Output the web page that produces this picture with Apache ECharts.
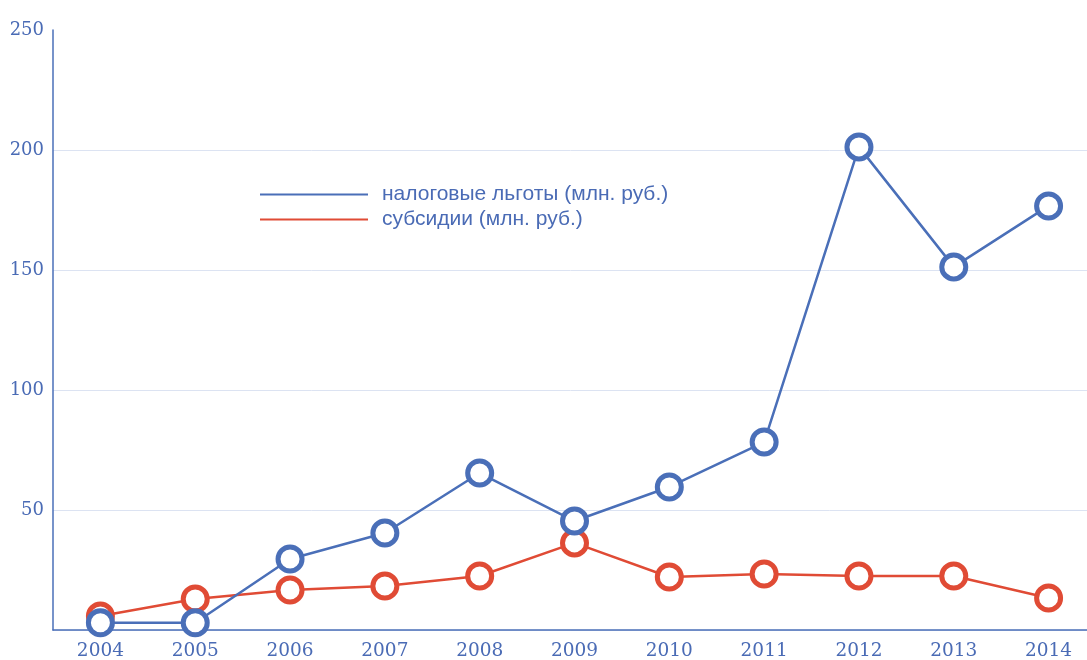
<!DOCTYPE html>
<html>
<head>
<meta charset="utf-8">
<script src="https://cdn.jsdelivr.net/npm/echarts@6/dist/echarts.min.js"></script>
<style>
  html, body { margin: 0; padding: 0; background: #fff; }
  #main { width: 1087px; height: 660px; }
</style>
</head>
<body>
<div id="main"></div>
<script>
// данные с графика
var years = ['2004', '2005', '2006', '2007', '2008', '2009', '2010', '2011', '2012', '2013', '2014'];
var taxBenefits = [3, 3, 29.6, 40.4, 65.4, 45.4, 59.6, 78.3, 201.3, 151.3, 176.7];
var subsidies = [5.8, 12.9, 16.7, 18.3, 22.5, 36.3, 22.1, 23.3, 22.5, 22.5, 13.3];

var blue = '#4a6fb8';
var red = '#e04b35';
var textColor = '#4a6bb5';

var chart = echarts.init(document.getElementById('main'));

var option = {
  animation: false,
  grid: {
    left: 53,
    top: 30,
    width: 1043,
    height: 600,
    outerBoundsMode: 'none'
  },
  legend: {
    orient: 'vertical',
    left: 260,
    top: 184,
    padding: 0,
    icon: 'rect',
    itemWidth: 108,
    itemHeight: 2,
    itemGap: 4,
    textStyle: {
      color: textColor,
      fontFamily: 'Liberation Sans',
      fontSize: 21,
      padding: [0, 0, 0, 9]
    },
    data: [
      { name: 'налоговые льготы (млн. руб.)', itemStyle: { color: blue, borderWidth: 0 } },
      { name: 'субсидии (млн. руб.)', itemStyle: { color: red, borderWidth: 0 } }
    ]
  },
  xAxis: {
    type: 'category',
    data: years,
    boundaryGap: true,
    axisLine: { lineStyle: { color: blue, width: 1.5 } },
    axisTick: { show: false },
    axisLabel: {
      color: textColor,
      fontFamily: 'DejaVu Serif',
      fontSize: 18.5,
      margin: 12
    }
  },
  yAxis: {
    type: 'value',
    min: 0,
    max: 250,
    interval: 50,
    axisLine: { show: true, lineStyle: { color: blue, width: 1.5 } },
    axisTick: { show: false },
    axisLabel: {
      color: textColor,
      fontFamily: 'DejaVu Serif',
      fontSize: 18,
      margin: 9,
      formatter: function (v) { return v === 0 ? '' : String(v); }
    },
    splitLine: {
      showMaxLine: false,
      lineStyle: { color: '#dce3f2', width: 1 }
    }
  },
  series: [
    {
      name: 'субсидии (млн. руб.)',
      type: 'line',
      data: subsidies,
      symbol: 'circle',
      symbolSize: 24,
      lineStyle: { color: red, width: 2.5 },
      itemStyle: { color: '#fff', borderColor: red, borderWidth: 5 },
      z: 2
    },
    {
      name: 'налоговые льготы (млн. руб.)',
      type: 'line',
      data: taxBenefits,
      symbol: 'circle',
      symbolSize: 24,
      lineStyle: { color: blue, width: 2.5 },
      itemStyle: { color: '#fff', borderColor: blue, borderWidth: 5 },
      z: 3
    }
  ]
};

chart.setOption(option);
</script>
</body>
</html>
